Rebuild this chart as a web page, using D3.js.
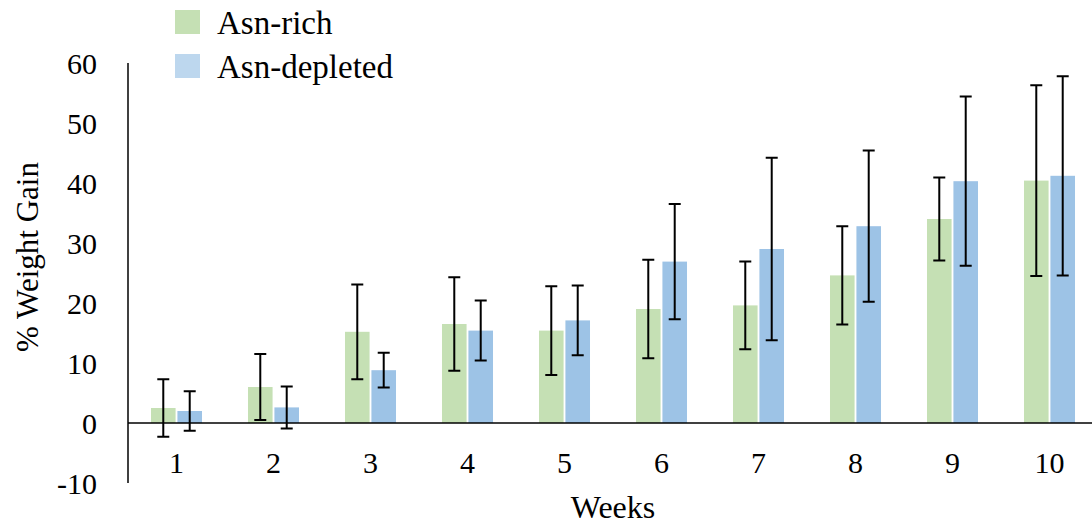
<!DOCTYPE html>
<html>
<head>
<meta charset="utf-8">
<script src="https://cdn.jsdelivr.net/npm/d3@7"></script>
<style>
    body { margin: 0; background: #fff; }
</style>
</head>
<body>
<div id="chart"></div>
<script>
var weeks = ['1', '2', '3', '4', '5', '6', '7', '8', '9', '10'];
var seriesNames = ['Asn-rich', 'Asn-depleted'];
var asnRich = [2.5, 6.0, 15.2, 16.5, 15.4, 19.0, 19.6, 24.6, 34.0, 40.4];
var asnRichErr = [4.8, 5.5, 7.9, 7.8, 7.4, 8.2, 7.3, 8.2, 6.9, 15.9];
var asnDepleted = [2.0, 2.6, 8.8, 15.4, 17.1, 26.9, 29.0, 32.8, 40.3, 41.2];
var asnDepletedErr = [3.3, 3.5, 2.9, 5.0, 5.8, 9.6, 15.2, 12.6, 14.1, 16.6];
var yTicks = [-10, 0, 10, 20, 30, 40, 50, 60];

var width = 1092;
var height = 527;

var fontStack = "'Liberation Serif', Tinos, 'Noto Serif', 'DejaVu Serif', FreeSerif, 'Times New Roman', Times, serif";

var colours = {
    'Asn-rich': '#c5e0b4',
    'Asn-depleted': '#9dc3e6'
};
var legendColours = {
    'Asn-rich': '#c5e0b4',
    'Asn-depleted': '#bdd7ee'
};

// one row per week and series
var data = [];
weeks.forEach(function(w, i) {
    data.push({ week: w, series: 'Asn-rich', value: asnRich[i], err: asnRichErr[i] });
    data.push({ week: w, series: 'Asn-depleted', value: asnDepleted[i], err: asnDepletedErr[i] });
});

var svg = d3.select('#chart')
    .append('svg')
    .attr('width', width)
    .attr('height', height)
    .style('font-family', fontStack);

var x0 = d3.scaleBand()
    .domain(weeks)
    .range([128, 1098])
    .paddingInner(0.474)
    .paddingOuter(0.237);

var x1 = d3.scaleBand()
    .domain(seriesNames)
    .range([0, x0.bandwidth()])
    .paddingInner(0.07);

var y = d3.scaleLinear()
    .domain([-10, 60])
    .range([483, 63]);

// bars
svg.selectAll('.bar')
    .data(data)
    .enter()
    .append('rect')
    .attr('class', 'bar')
    .attr('x', function(d) {
        return x0(d.week) + x1(d.series);
    })
    .attr('width', x1.bandwidth())
    .attr('y', function(d) {
        return y(Math.max(0, d.value));
    })
    .attr('height', function(d) {
        return Math.abs(y(d.value) - y(0));
    })
    .attr('fill', function(d) {
        return colours[d.series];
    });

// y axis line, no ticks
svg.append('line')
    .attr('x1', 128)
    .attr('x2', 128)
    .attr('y1', y(60))
    .attr('y2', y(-10))
    .attr('stroke', '#000')
    .attr('stroke-width', 1.5);

svg.selectAll('.ytick')
    .data(yTicks)
    .enter()
    .append('text')
    .attr('class', 'ytick')
    .attr('x', 97)
    .attr('y', function(d) {
        return y(d);
    })
    .attr('dy', '0.35em')
    .attr('text-anchor', 'end')
    .attr('font-size', '30px')
    .text(function(d) {
        return d;
    });

// x axis at zero
svg.append('line')
    .attr('x1', 128)
    .attr('x2', width)
    .attr('y1', y(0))
    .attr('y2', y(0))
    .attr('stroke', '#000')
    .attr('stroke-width', 1.5);

svg.selectAll('.xtick')
    .data(weeks)
    .enter()
    .append('text')
    .attr('class', 'xtick')
    .attr('x', function(d) {
        return x0(d) + x0.bandwidth() / 2;
    })
    .attr('y', 473)
    .attr('text-anchor', 'middle')
    .attr('font-size', '30px')
    .text(function(d) {
        return d;
    });

// error bars
var cap = 6;
svg.selectAll('.err')
    .data(data)
    .enter()
    .append('path')
    .attr('class', 'err')
    .attr('d', function(d) {
        var cx = x0(d.week) + x1(d.series) + x1.bandwidth() / 2;
        var top = y(d.value + d.err);
        var bot = y(d.value - d.err);
        return 'M' + cx + ',' + top + ' L' + cx + ',' + bot +
            ' M' + (cx - cap) + ',' + top + ' L' + (cx + cap) + ',' + top +
            ' M' + (cx - cap) + ',' + bot + ' L' + (cx + cap) + ',' + bot;
    })
    .attr('fill', 'none')
    .attr('stroke', '#000')
    .attr('stroke-width', 2);

// axis titles
svg.append('text')
    .attr('x', 613)
    .attr('y', 518)
    .attr('text-anchor', 'middle')
    .attr('font-size', '32px')
    .text('Weeks');

svg.append('text')
    .attr('transform', 'translate(38,257) rotate(-90)')
    .attr('text-anchor', 'middle')
    .attr('font-size', '31px')
    .text('% Weight Gain');

// legend
var legend = svg.selectAll('.legend')
    .data(seriesNames)
    .enter()
    .append('g')
    .attr('class', 'legend')
    .attr('transform', function(d, i) {
        return 'translate(175,' + (10 + i * 44) + ')';
    });

legend.append('rect')
    .attr('width', 25)
    .attr('height', 24)
    .attr('fill', function(d) {
        return legendColours[d];
    });

legend.append('text')
    .attr('x', 42)
    .attr('y', 12)
    .attr('dy', '0.35em')
    .attr('font-size', '33px')
    .text(function(d) {
        return d;
    });
</script>
</body>
</html>
